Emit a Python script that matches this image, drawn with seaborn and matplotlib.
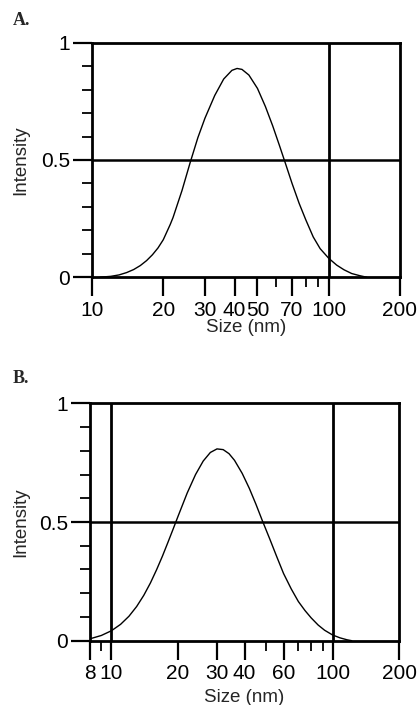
import matplotlib
matplotlib.use("Agg")
import matplotlib.pyplot as plt
import matplotlib.ticker as mticker
import seaborn as sns

# Panel A - size distribution
size_a = [10.8, 11, 12, 13, 14, 15, 16, 17, 18, 19, 20, 21.4, 22, 24, 26, 28, 30, 33, 36, 39,
          41, 43, 46, 50, 54, 58, 62, 66, 70, 75, 80, 86, 92, 100, 108, 116, 125, 135, 145]
intensity_a = [0.0, 0.001, 0.004, 0.010, 0.020, 0.033, 0.050, 0.071, 0.096, 0.125, 0.160,
               0.225, 0.255, 0.370, 0.490, 0.595, 0.678, 0.775, 0.845, 0.882, 0.890, 0.886,
               0.862, 0.805, 0.728, 0.645, 0.560, 0.478, 0.400, 0.315, 0.245, 0.172, 0.122,
               0.081, 0.052, 0.032, 0.016, 0.007, 0.0]

# Panel B
size_b = [8, 9, 10, 11, 12, 13, 14, 15, 16, 17, 18, 19, 20, 22, 24, 26, 28, 30, 32, 34, 36,
          39, 42, 45, 48, 52, 56, 60, 65, 70, 75, 80, 86, 92, 100, 108, 116, 122]
intensity_b = [0.008, 0.022, 0.042, 0.069, 0.103, 0.144, 0.191, 0.243, 0.299, 0.356, 0.414,
               0.470, 0.524, 0.622, 0.700, 0.757, 0.793, 0.808, 0.805, 0.788, 0.760, 0.705,
               0.642, 0.575, 0.508, 0.428, 0.352, 0.283, 0.218, 0.165, 0.127, 0.096, 0.066,
               0.044, 0.024, 0.012, 0.004, 0.0]

# axis ticks
xmajor_a = [10, 20, 30, 40, 50, 70, 100, 200]
xminor_a = [60, 80, 90]
xmajor_b = [8, 10, 20, 30, 40, 60, 100, 200]
xminor_b = [9, 50, 70, 80, 90]
ymajor = [0, 0.5, 1]
yminor = [0.1, 0.2, 0.3, 0.4, 0.6, 0.7, 0.8, 0.9]

sns.set_style("ticks")
plt.rcParams['font.family'] = ['Liberation Sans', 'DejaVu Sans']

fig = plt.figure(figsize=(4.19, 7.05), dpi=100)
ax_a = fig.add_axes([0.2196, 0.6067, 0.735, 0.3328])
ax_b = fig.add_axes([0.2148, 0.0912, 0.738, 0.3367])


def style_panel(ax, xs, ys, xlim, xmaj, xmin, vlines, xlab_y, ylab_x):
    sns.lineplot(x=xs, y=ys, ax=ax, color='black', linewidth=1.0, estimator=None, sort=False)
    ax.set_xscale('log')
    ax.set_xlim(*xlim)
    ax.set_ylim(0, 1)
    ax.xaxis.set_major_locator(mticker.FixedLocator(xmaj))
    ax.xaxis.set_major_formatter(mticker.FixedFormatter([str(v) for v in xmaj]))
    ax.xaxis.set_minor_locator(mticker.FixedLocator(xmin))
    ax.xaxis.set_minor_formatter(mticker.NullFormatter())
    ax.yaxis.set_major_locator(mticker.FixedLocator(ymajor))
    ax.yaxis.set_major_formatter(mticker.FixedFormatter(['0', '0.5', '1']))
    ax.yaxis.set_minor_locator(mticker.FixedLocator(yminor))
    ax.tick_params(which='major', direction='out', length=14, width=1.6,
                   labelsize=15, color='black', labelcolor='black')
    ax.tick_params(which='minor', direction='out', length=7, width=1.3, color='black')
    ax.tick_params(axis='x', which='major', pad=3)
    ax.tick_params(axis='y', which='major', pad=2)
    for s in ax.spines.values():
        s.set_visible(True)
        s.set_linewidth(2.0)
        s.set_color('black')
    ax.axhline(0.5, color='black', linewidth=1.8)
    for v in vlines:
        ax.axvline(v, color='black', linewidth=2.0)
    ax.set_xlabel('Size (nm)', fontsize=13.5)
    ax.set_ylabel('Intensity', fontsize=13.5)
    ax.xaxis.set_label_coords(0.5, xlab_y)
    ax.yaxis.set_label_coords(ylab_x, 0.5)
    ax.grid(False)


style_panel(ax_a, size_a, intensity_a, (10, 200), xmajor_a, xminor_a, [100], -0.178, -0.205)
style_panel(ax_b, size_b, intensity_b, (8, 200), xmajor_b, xminor_b, [10, 100], -0.203, -0.197)

fig.text(13 / 419, 1 - 25 / 705, 'A.', fontsize=13, fontweight='bold',
         family=['Liberation Serif', 'DejaVu Serif'], va='baseline')
fig.text(13 / 419, 1 - 383 / 705, 'B.', fontsize=13, fontweight='bold',
         family=['Liberation Serif', 'DejaVu Serif'], va='baseline')

fig.savefig('out.png', dpi=100, facecolor='white')
